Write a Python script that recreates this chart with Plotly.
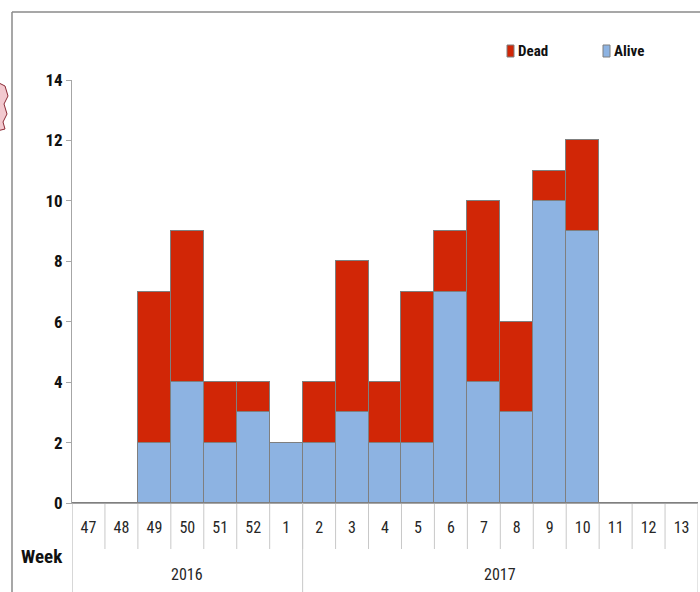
import plotly.graph_objects as go

years = ["2016"] * 7 + ["2017"] * 12
weeks = ["47", "48", "49", "50", "51", "52", "1", "2", "3", "4", "5", "6", "7", "8", "9", "10", "11", "12", "13"]
alive = [0, 0, 2, 4, 2, 3, 2, 2, 3, 2, 2, 7, 4, 3, 10, 9, 0, 0, 0]
dead = [0, 0, 5, 5, 2, 1, 0, 2, 5, 2, 5, 2, 6, 3, 1, 3, 0, 0, 0]
y_ticks = [0, 2, 4, 6, 8, 10, 12, 14]

FONT = "Roboto Condensed, Open Sans Condensed, Liberation Sans Narrow, sans-serif"
BLUE = "#8DB3E2"
RED = "#D12606"
EDGE = "#7f7f7f"
SEP = "#c8c8c8"

W, H = 700, 592
L, R, T, B = 72, 2, 80, 89
pw, ph = W - L - R, H - T - B


def px_x(p):
    return (p - L) / pw


def px_y(p):
    return (H - B - p) / ph


fig = go.Figure()
fig.add_trace(go.Bar(x=weeks, y=alive, name="Alive",
                     marker=dict(color=BLUE, line=dict(color=EDGE, width=1))))
fig.add_trace(go.Bar(x=weeks, y=dead, name="Dead",
                     marker=dict(color=RED, line=dict(color=EDGE, width=1))))

fig.update_layout(
    barmode="stack", bargap=0,
    width=W, height=H,
    margin=dict(l=L, r=R, t=T, b=B, autoexpand=False),
    paper_bgcolor="white", plot_bgcolor="white",
    font=dict(family=FONT, size=16, color="#222"),
    showlegend=False,
    xaxis=dict(type="category", range=[-0.5, len(weeks) - 0.5], automargin=False,
               showline=True, linecolor="#a6a6a6", linewidth=1,
               ticks="outside", ticklen=10, tickcolor="rgba(0,0,0,0)",
               tickfont=dict(size=16, color="#262626", family=FONT), showgrid=False),
    yaxis=dict(range=[0, 14], tickvals=y_ticks, automargin=False, showline=True,
               linecolor="#a6a6a6", linewidth=1, ticks="outside", ticklen=5,
               tickcolor="#a6a6a6", showgrid=False, zeroline=False,
               tickfont=dict(size=17, color="#111", family=FONT, weight="bold")),
)

# week separators below the axis
for i in range(len(weeks) - 1):
    fig.add_shape(type="line", xref="x", yref="paper", x0=i + 0.5, x1=i + 0.5,
                  y0=0, y1=px_y(549), line=dict(color=SEP, width=1), layer="below")

# year group dividers and labels
bounds = [0] + [i for i in range(1, len(years)) if years[i] != years[i - 1]] + [len(years)]
for b in bounds:
    fig.add_shape(type="line", xref="x", yref="paper", x0=b - 0.5, x1=b - 0.5,
                  y0=0, y1=px_y(600), line=dict(color="#b0b0b0" if b == 0 else SEP, width=1))
for a, b in zip(bounds[:-1], bounds[1:]):
    fig.add_annotation(text=years[a], xref="x", yref="paper", x=(a + b - 1) / 2,
                       y=px_y(574), showarrow=False, xanchor="center", yanchor="middle",
                       font=dict(size=16, color="#262626", family=FONT))

# frame border (top and left)
fig.add_shape(type="line", xref="paper", yref="paper", x0=px_x(12), x1=px_x(705),
              y0=px_y(12), y1=px_y(12), line=dict(color="#8a8a8a", width=1.5))
fig.add_shape(type="line", xref="paper", yref="paper", x0=px_x(12), x1=px_x(12),
              y0=px_y(12), y1=px_y(600), line=dict(color="#8a8a8a", width=1.5))

# small logo fragment cut off at the left edge
fig.add_shape(type="path", xref="paper", yref="paper",
              path=(f"M {px_x(-3)} {px_y(82)} L {px_x(5)} {px_y(86)} L {px_x(8)} {px_y(96)} "
                    f"L {px_x(4)} {px_y(104)} L {px_x(7)} {px_y(114)} L {px_x(3)} {px_y(122)} "
                    f"L {px_x(5)} {px_y(129)} L {px_x(-3)} {px_y(131)} Z"),
              fillcolor="#f2c9cf", line=dict(color="#8b2a35", width=1))

# legend drawn manually (Dead, Alive)
for label, color, x0 in [("Dead", RED, 507), ("Alive", BLUE, 603)]:
    fig.add_shape(type="rect", xref="paper", yref="paper",
                  x0=px_x(x0), x1=px_x(x0 + 7), y0=px_y(57), y1=px_y(45),
                  fillcolor=color, line=dict(color=EDGE, width=1))
    fig.add_annotation(text=label, xref="paper", yref="paper", x=px_x(x0 + 9), y=px_y(51),
                       showarrow=False, xanchor="left", yanchor="middle",
                       font=dict(size=15, color="#111", family=FONT, weight="bold"))

fig.add_annotation(text="Week", xref="paper", yref="paper", x=px_x(42), y=px_y(556),
                   showarrow=False, xanchor="center", yanchor="middle",
                   font=dict(size=19, color="#111", family=FONT, weight="bold"))

fig.write_html("out.html", config={"displayModeBar": False},
               post_script="document.body.style.margin='0';document.body.style.overflow='hidden';")
